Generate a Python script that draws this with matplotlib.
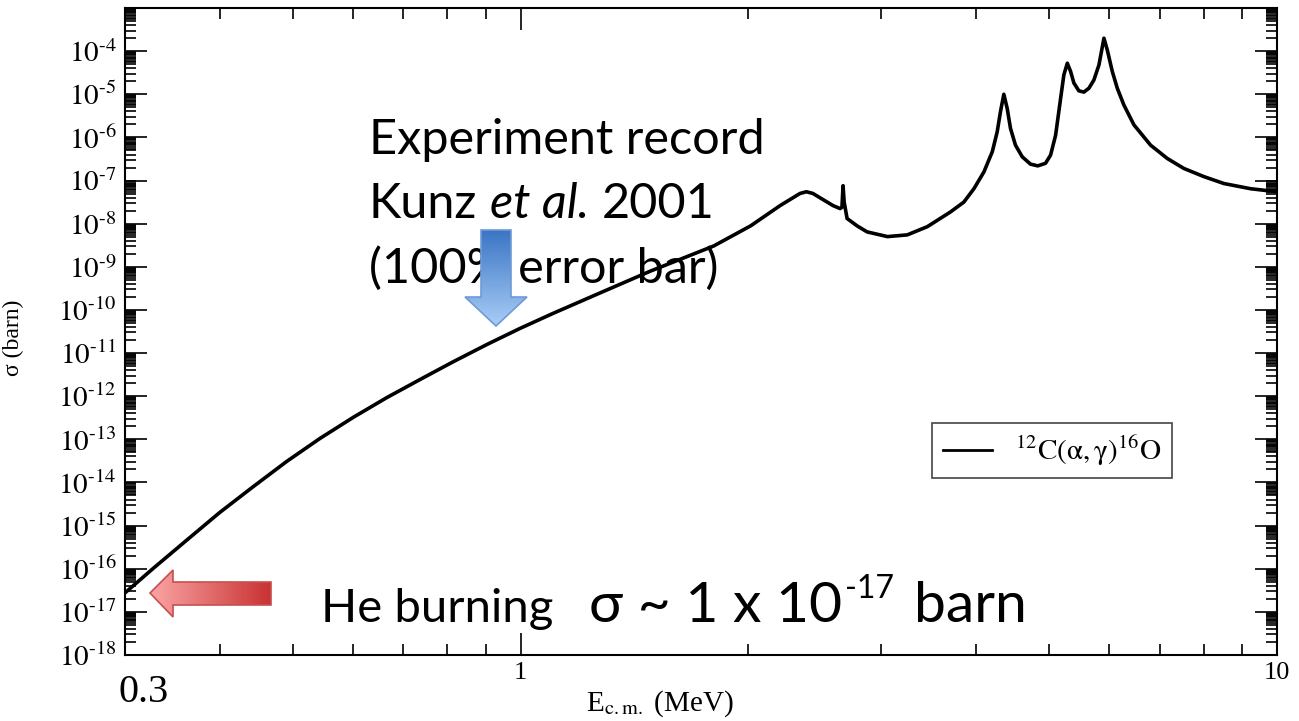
import numpy as np
import matplotlib.pyplot as plt
import matplotlib.ticker as mticker
from matplotlib.patches import Polygon
from matplotlib.colors import LinearSegmentedColormap

plt.rcParams['font.family'] = ['Liberation Serif', 'DejaVu Serif']
plt.rcParams['mathtext.fontset'] = 'stix'

# E_cm (MeV) and cross section (barn)
energy = [0.300, 0.327, 0.363, 0.400, 0.443, 0.491, 0.543, 0.601, 0.666, 0.737,
          0.815, 0.903, 0.998, 1.104, 1.276, 1.485, 1.799, 2.015, 2.204, 2.341,
          2.387, 2.435, 2.588, 2.645, 2.660, 2.669, 2.678, 2.702, 2.785, 2.871,
          3.055, 3.245, 3.449, 3.700, 3.855, 3.975, 4.098, 4.204, 4.267, 4.310,
          4.354, 4.399, 4.443, 4.511, 4.605, 4.722, 4.828, 4.943, 5.020, 5.097,
          5.176, 5.227, 5.282, 5.335, 5.389, 5.471, 5.555, 5.641, 5.727, 5.816,
          5.905, 5.965, 6.057, 6.150, 6.275, 6.470, 6.806, 7.163, 7.532, 8.007,
          8.510, 9.228, 10.0]
log_sigma = [-16.56, -15.99, -15.32, -14.70, -14.10, -13.51, -12.98, -12.49, -12.03, -11.61,
             -11.20, -10.80, -10.43, -10.08, -9.60, -9.10, -8.52, -8.05, -7.58, -7.30,
             -7.26, -7.30, -7.58, -7.65, -7.62, -7.12, -7.50, -7.88, -8.05, -8.19,
             -8.30, -8.26, -8.07, -7.73, -7.50, -7.19, -6.80, -6.33, -5.87, -5.40,
             -5.00, -5.33, -5.79, -6.18, -6.45, -6.62, -6.66, -6.60, -6.41, -5.95,
             -5.09, -4.55, -4.28, -4.47, -4.74, -4.92, -4.95, -4.86, -4.67, -4.32,
             -3.70, -3.97, -4.47, -4.86, -5.25, -5.71, -6.18, -6.49, -6.72, -6.91,
             -7.07, -7.19, -7.26]
sigma = 10.0 ** np.array(log_sigma)

ytick_exp = list(range(-18, -2))
ytick_labels = [r'$10^{\text{-}%d}$' % -e for e in range(-18, -3)] + ['']
xtick_vals = [0.3, 1, 10]
xtick_labels = ['', '1', '10']
legend_label = r'$^{12}\mathrm{C(\alpha,\gamma)}^{16}\mathrm{O}$'

W, H = 1299, 721
fig = plt.figure(figsize=(W / 100, H / 100), dpi=100)
ax = fig.add_axes([125 / W, 1 - 655 / H, (1277 - 125) / W, (655 - 8) / H])

ax.plot(energy, sigma, color='black', lw=2.6, label=legend_label)
ax.set_xscale('log')
ax.set_yscale('log')
ax.set_xlim(0.3, 10)
ax.set_ylim(1e-18, 1e-3)

ax.set_yticks([10.0 ** e for e in ytick_exp])
ax.set_yticklabels(ytick_labels)
ax.yaxis.set_minor_locator(mticker.LogLocator(
    base=10, subs=[2, 3, 4, 5, 5.5, 6, 6.5, 7, 7.5, 8, 8.5, 9, 9.5], numticks=200))
ax.yaxis.set_minor_formatter(mticker.NullFormatter())
ax.set_xticks(xtick_vals)
ax.set_xticklabels(xtick_labels)
ax.xaxis.set_minor_locator(mticker.LogLocator(base=10, subs=np.arange(2, 10), numticks=200))
ax.xaxis.set_minor_formatter(mticker.NullFormatter())

ax.tick_params(which='both', direction='in', top=True, right=True, width=1.2)
ax.tick_params(which='major', length=16)
ax.tick_params(which='minor', length=8)
ax.tick_params(axis='y', labelsize=21, pad=6)
ax.tick_params(axis='x', labelsize=19, pad=5)
for s in ax.spines.values():
    s.set_linewidth(1.5)

# big hand-placed "0.3" at the left end of the energy axis
ax.annotate('0.3', xy=(0, 0), xycoords='axes fraction', xytext=(-5, -34), textcoords='offset points',
            fontsize=29, ha='left', va='baseline')

ax.set_xlabel(r'E$_{\rm c.m.}$ (MeV)', fontsize=21)
ax.xaxis.set_label_coords((660 - 125) / 1152, -0.052)
ax.set_ylabel('σ (barn)', fontsize=17)
ax.yaxis.set_label_coords((24 - 125) / 1152, 0.49)

leg = ax.legend(loc='upper left', bbox_to_anchor=(932 / W, 1 - 423 / H), bbox_transform=fig.transFigure,
                borderaxespad=0, fancybox=False, edgecolor='#444444', fontsize=21,
                handlelength=1.7, handletextpad=0.8, borderpad=0.36)
leg.get_frame().set_linewidth(1.2)
leg.get_frame().set_alpha(1)
leg.get_lines()[0].set_linewidth(2)

# overlay in pixel coordinates for the slide annotations
ov = fig.add_axes([0, 0, 1, 1], zorder=5)
ov.set_xlim(0, W)
ov.set_ylim(H, 0)
ov.axis('off')
ov.patch.set_alpha(0)

sans = ['Lato', 'DejaVu Sans']
ov.text(369, 154, 'Experiment record', fontsize=35, family=sans, va='baseline')
t = ov.text(369, 218, 'Kunz', fontsize=35, family=sans, va='baseline')
t = ov.annotate('et al.', xy=(1, 218), xycoords=(t, 'data'), xytext=(9, 0), textcoords='offset points',
                fontsize=35, family=sans, style='italic', va='baseline')
ov.annotate('2001', xy=(1, 218), xycoords=(t, 'data'), xytext=(9, 0), textcoords='offset points',
            fontsize=35, family=sans, va='baseline')
ov.text(369, 283, '(100% error bar)', fontsize=35, family=sans, va='baseline')

t = ov.text(321, 622, 'He burning', fontsize=34, family=sans, va='baseline')
t = ov.annotate('σ ~ 1 x 10', xy=(1, 622), xycoords=(t, 'data'), xytext=(26, 0), textcoords='offset points',
                fontsize=41, family=sans, va='baseline')
t = ov.annotate('-17', xy=(1, 598), xycoords=(t, 'data'), xytext=(2, 0), textcoords='offset points',
                fontsize=23, family=sans, va='baseline')
ov.annotate('barn', xy=(1, 622), xycoords=(t, 'data'), xytext=(14, 0), textcoords='offset points',
            fontsize=41, family=sans, va='baseline')


def grad_arrow(verts, c0, c1, edge, horizontal):
    poly = Polygon(verts, closed=True, facecolor='none', edgecolor=edge, lw=1.2, zorder=7)
    ov.add_patch(poly)
    xs = [v[0] for v in verts]
    ys = [v[1] for v in verts]
    g = np.linspace(0, 1, 256)
    img = g[None, :] if horizontal else g[:, None]
    cmap = LinearSegmentedColormap.from_list('g', [c0, c1])
    im = ov.imshow(img, cmap=cmap, extent=[min(xs), max(xs), max(ys), min(ys)],
                   aspect='auto', interpolation='bilinear', zorder=6)
    im.set_clip_path(poly)


grad_arrow([(481, 230), (511, 230), (511, 297), (527, 297), (496, 326), (465, 297), (481, 297)],
           '#3A75C4', '#A9CDF7', '#6E9BD6', horizontal=False)
grad_arrow([(150, 593), (173, 570), (173, 582), (271, 582), (271, 605), (173, 605), (173, 617)],
           '#FBA5A5', '#C83232', '#C65050', horizontal=True)
ov.set_xlim(0, W)
ov.set_ylim(H, 0)

fig.savefig('out.png', dpi=100)
